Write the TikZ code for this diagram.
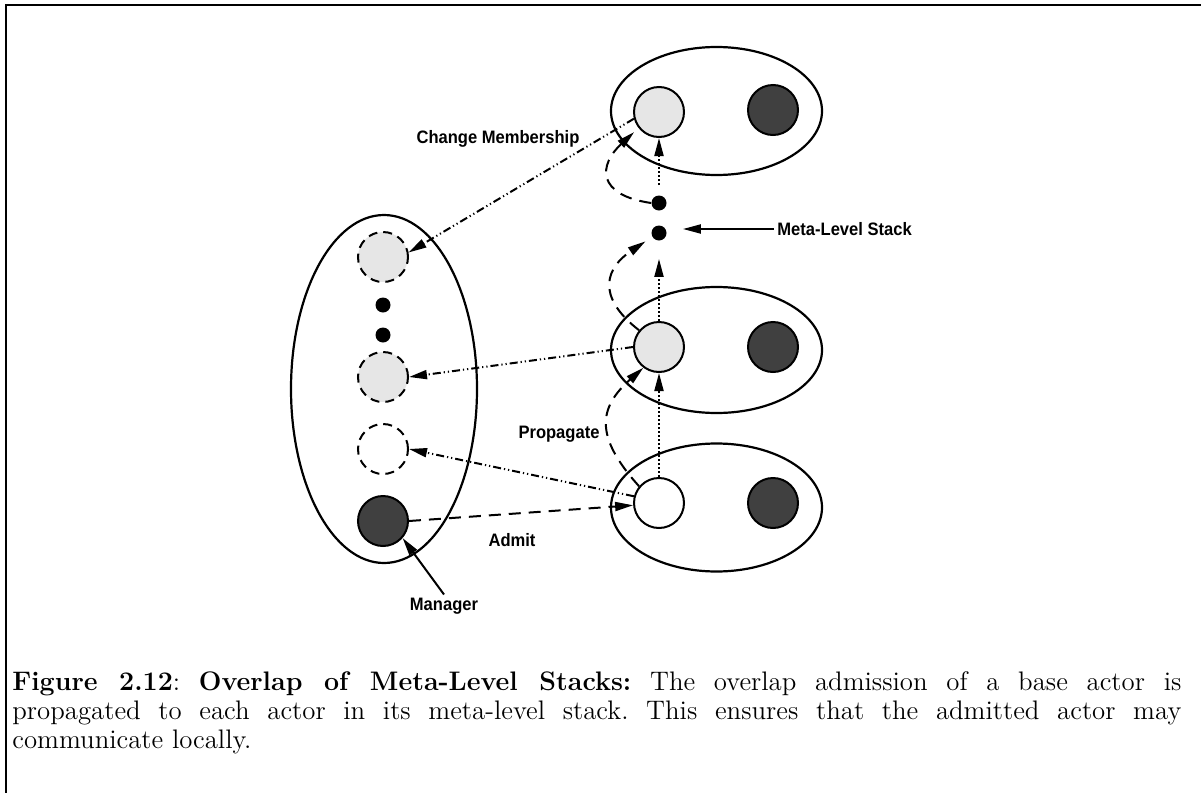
\documentclass[tikz,border=0pt]{standalone}
\usepackage{fontspec}
\newfontfamily\lblfont[FakeStretch=0.92]{Liberation Sans}
\usetikzlibrary{arrows.meta,shapes.geometric}
\definecolor{actordark}{HTML}{404040}
\definecolor{actorlight}{HTML}{E6E6E6}
\tikzset{
  grp/.style={draw, ellipse, line width=1.1pt, inner sep=0pt},
  actor/.style={draw, circle, line width=1pt, minimum size=25pt, inner sep=0pt, fill=white},
  litactor/.style={actor, fill=actorlight},
  darkactor/.style={actor, fill=actordark},
  ghost/.style={actor, dash pattern=on 4.5pt off 3pt},
  stackdot/.style={circle, fill=black, minimum size=7.5pt, inner sep=0pt},
  lbl/.style={font=\lblfont\bfseries\fontsize{9}{10}\selectfont, inner sep=1.5pt},
  tip/.style={-{Triangle[length=9pt,width=4.5pt]}},
  migrate/.style={tip, line width=1pt, dash pattern=on 4pt off 1.5pt on 0.6pt off 1.5pt on 0.6pt off 1.5pt},
  chain/.style={tip, line width=1pt, dash pattern=on 1pt off 1pt},
  hop/.style={tip, line width=1pt, dash pattern=on 6pt off 4pt},
  admitline/.style={tip, line width=1pt, dash pattern=on 6pt off 4pt},
  pointer/.style={tip, line width=1pt},
}
\begin{document}
\begin{tikzpicture}[x=0.5pt, y=-0.5pt]
\useasboundingbox (0,0) rectangle (1201,793);

% frame
\draw[line width=1pt] (1201,5) -- (6,5) -- (6,793);

% groups
\node[grp, minimum width=93pt, minimum height=174pt] (mgrgrp) at (384,389) {};
\node[grp, minimum width=105.5pt, minimum height=64pt] (topgrp) at (716.5,111) {};
\node[grp, minimum width=105.5pt, minimum height=63pt] (midgrp) at (716.5,350) {};
\node[grp, minimum width=105.5pt, minimum height=64pt] (botgrp) at (716.5,507.5) {};

% actors on the right
\node[litactor] (t1) at (659,112) {};
\node[darkactor] (t2) at (773,110) {};
\node[litactor] (m1) at (659,347) {};
\node[darkactor] (m2) at (773,347) {};
\node[actor] (b1) at (659,503) {};
\node[darkactor] (b2) at (773,503) {};

% manager group members
\node[ghost, fill=actorlight] (lc1) at (383,257) {};
\node[stackdot] (ld1) at (383,305) {};
\node[stackdot] (ld2) at (383,335) {};
\node[ghost, fill=actorlight] (lc2) at (383,377) {};
\node[ghost] (lc3) at (383,449) {};
\node[darkactor] (mgr) at (383,521) {};

% meta-level stack dots
\node[stackdot] (sd1) at (659,203) {};
\node[stackdot] (sd2) at (659,233) {};

% labels
\node[lbl] (lblcm) at (498,139) {Change Membership};
\node[lbl, anchor=west] (lblmls) at (774,229) {Meta-Level Stack};
\node[lbl] (lblprop) at (559,434) {Propagate};
\node[lbl] (lbladmit) at (512,540) {Admit};
\node[lbl] (lblmgr) at (444,606) {Manager};

% membership changes
\draw[migrate] (t1.195) -- (lc1.10);
\draw[migrate] (m1.180) -- (lc2.0);
\draw[migrate] (b1.165) -- (lc3.0);

% admission
\draw[admitline] (mgr.east) -- (b1.185);

% stack chain
\draw[chain] (b1.north) -- (m1.south);
\draw[chain, shorten >=9pt] (m1.north) -- (sd2.south);
\draw[chain, shorten <=5pt] (sd1.north) -- (t1.south);

% propagation
\draw[hop] (b1.140) .. controls +(-45,-50) and +(-45,40) .. (m1.233);
\draw[hop, shorten >=4pt] (m1.140) .. controls +(-45,-35) and +(-45,30) .. (sd2.210);
\draw[hop, shorten >=3pt] (sd1.180) .. controls +(-55,-8) and +(-40,37) .. (t1.218);

% label pointers
\draw[pointer, shorten >=8pt] (lblmls.west) -- (lblmls.west -| sd2.east);
\draw[pointer] (lblmgr.north) -- (mgr.-41);

% caption
\node[anchor=north west, inner sep=0pt, text width=584.5pt, align=justify,
      font=\fontsize{13.4}{14.5}\selectfont\frenchspacing] (cap) at (12,671.5)
  {\textbf{Figure 2.12}: \textbf{Overlap of Meta-Level Stacks:} The overlap admission of a base actor is\linebreak
   propagated to each actor in its meta-level stack. This ensures that the admitted actor may\linebreak
   communicate locally.};
\end{tikzpicture}
\end{document}
